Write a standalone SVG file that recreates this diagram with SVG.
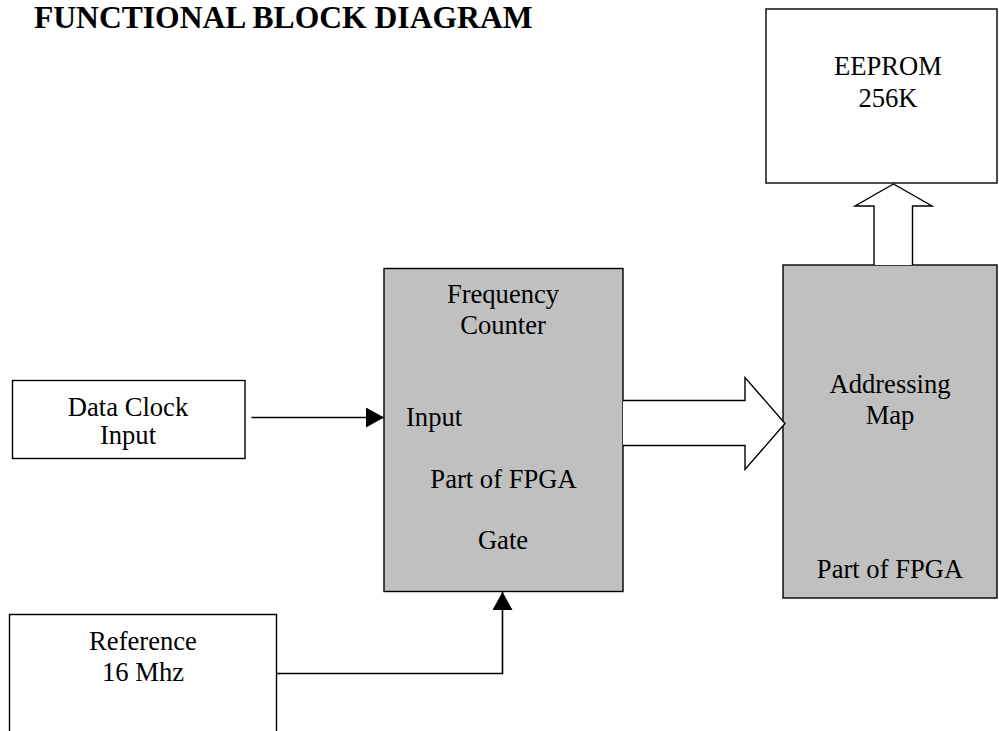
<svg xmlns="http://www.w3.org/2000/svg" width="999" height="731" viewBox="0 0 999 731">
  <style>
    .box { fill: #ffffff; stroke: #000000; stroke-width: 1.4; }
    .fpga { fill: #c0c0c0; stroke: #000000; stroke-width: 1.4; }
    .bus { fill: #ffffff; stroke: #000000; stroke-width: 1.4; stroke-linejoin: miter; }
    .wire { fill: none; stroke: #000000; stroke-width: 1.6; }
    .lbl { font-family: "Liberation Serif", "Times New Roman", serif; font-size: 26.6px; fill: #000000; }
    .mid { text-anchor: middle; }
    .title { font-family: "Liberation Serif", "Times New Roman", serif; font-size: 31.6px; font-weight: bold; fill: #000000; }
  </style>
  <defs>
    <marker id="arrow" viewBox="0 0 18 20" refX="18" refY="10" markerWidth="18" markerHeight="20" markerUnits="userSpaceOnUse" orient="auto">
      <path d="M0,0 L18,10 L0,20 Z" fill="#000000"/>
    </marker>
  </defs>

  <rect width="999" height="731" fill="#ffffff"/>

  <text class="title" x="34" y="27.5">FUNCTIONAL BLOCK DIAGRAM</text>

  <g id="eeprom">
    <rect class="box" x="766" y="9" width="231" height="174"/>
    <text class="lbl mid" x="888" y="75">EEPROM</text>
    <text class="lbl mid" x="888" y="107">256K</text>
  </g>

  <g id="frequency-counter">
    <rect class="fpga" x="384" y="268.5" width="239" height="323"/>
    <text class="lbl mid" x="503" y="303">Frequency</text>
    <text class="lbl mid" x="503" y="334">Counter</text>
    <text class="lbl" x="406" y="426">Input</text>
    <text class="lbl mid" x="503.5" y="487.5">Part of FPGA</text>
    <text class="lbl mid" x="503" y="548.5">Gate</text>
  </g>

  <g id="addressing-map">
    <rect class="fpga" x="783" y="265" width="214" height="333"/>
    <text class="lbl mid" x="890" y="393">Addressing</text>
    <text class="lbl mid" x="890" y="424">Map</text>
    <text class="lbl mid" x="890" y="577.5">Part of FPGA</text>
  </g>

  <g id="data-clock">
    <rect class="box" x="12.5" y="380.5" width="232.5" height="78"/>
    <text class="lbl mid" x="128" y="415.5">Data Clock</text>
    <text class="lbl mid" x="128" y="443.5">Input</text>
  </g>

  <g id="reference">
    <path class="box" d="M9.5,740 L9.5,614.5 L276.5,614.5 L276.5,740"/>
    <text class="lbl mid" x="143" y="649.5">Reference</text>
    <text class="lbl mid" x="143" y="680.5">16 Mhz</text>
  </g>

  <g id="connectors">
    <line class="wire" x1="251.5" y1="417.5" x2="384" y2="417.5" marker-end="url(#arrow)"/>
    <polyline class="wire" points="276.5,673.5 502.5,673.5 502.5,592" marker-end="url(#arrow)"/>
    <!-- wide bus arrow: counter to addressing map -->
    <path class="bus" d="M623,400.5 L745,400.5 L745,377.5 L785,423.5 L745,469.5 L745,445.5 L623,445.5"/>
    <!-- wide bus arrow: addressing map up to EEPROM -->
    <path class="bus" d="M874,265 L874,206 L855,206 L893.5,184 L932,206 L912.5,206 L912.5,265"/>
  </g>
</svg>
